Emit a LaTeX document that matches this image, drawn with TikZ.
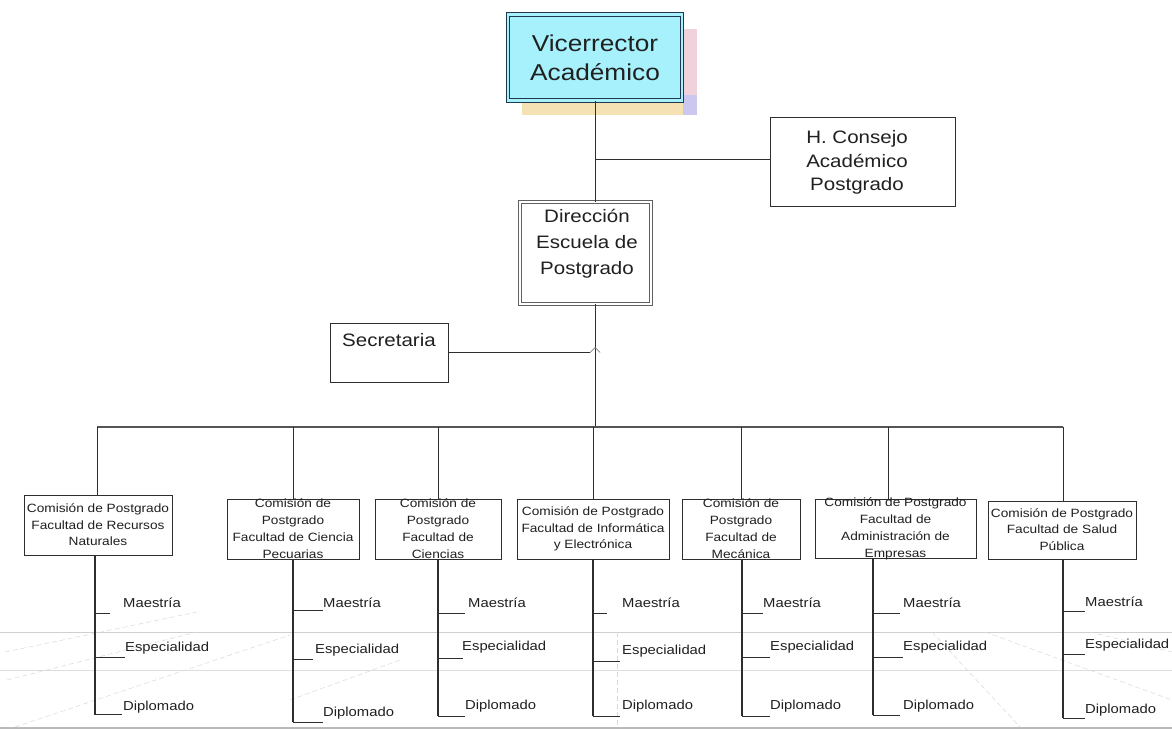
\documentclass[tikz,border=0pt]{standalone}
\usepackage{fontspec}
\setmainfont{Liberation Sans}[FakeStretch=1.14]
\definecolor{linec}{HTML}{2E2E2E}
\definecolor{busc}{HTML}{555555}
\definecolor{textc}{HTML}{202020}
\definecolor{vrfill}{HTML}{A6F1FB}
\definecolor{navy}{HTML}{203850}
\definecolor{shpink}{HTML}{F0D2DC}
\definecolor{shyel}{HTML}{F4E2B4}
\definecolor{shlav}{HTML}{CBC7EE}
\definecolor{floorc}{HTML}{CFCFCF}
\begin{document}
\begin{tikzpicture}[x=1pt,y=-1pt,
  box/.style={draw=linec, line width=0.9pt, inner sep=0pt, fill=white},
  txt/.style={align=center, inner sep=0pt, text=textc},
  big/.style={txt, font=\fontsize{18}{24}\selectfont},
  small/.style={txt, font=\fontsize{12}{16.5}\selectfont},
  leaf/.style={inner sep=0pt, anchor=west, text=textc, font=\fontsize{13}{15}\selectfont},
  conn/.style={draw=linec, line width=1pt},
  floor/.style={draw=floorc, line width=0.6pt},
  floordash/.style={draw=floorc!80, line width=0.5pt, dash pattern=on 5pt off 3pt}]
\useasboundingbox (0,0) rectangle (1172,730);
\fill[white] (0,0) rectangle (1172,730);

% faint floor grid behind the lower tier
\draw[floor] (0,632) -- (1172,632);
\draw[floor, draw=floorc!70] (0,670) -- (1172,670);
\draw[draw=floorc!90!black, line width=1.6pt] (0,728) -- (1172,728);
\draw[floordash] (5,652) -- (197,612);
\draw[floordash] (7,680) -- (197,632);
\draw[floordash] (15,727) -- (290,635);
\draw[floordash] (290,700) -- (400,660);
\draw[floordash] (932,632) -- (1020,727);
\draw[floordash] (985,632) -- (1172,700);
\draw[floordash] (1090,632) -- (1172,652);
\draw[floordash] (617,632) -- (617,727);

% Vicerrector with coloured drop shadow
\fill[shpink] (522,29) rectangle (697,115);
\fill[shyel] (522,102) rectangle (683,115);
\fill[shlav] (683,95) rectangle (697,115);
\node[draw=navy, line width=1pt, double=vrfill, double distance=2.2pt, fill=vrfill,
      minimum width=174pt, minimum height=86pt, inner sep=0pt] (vr) at (595,57.5) {};
\node[txt, font=\fontsize{23}{29}\selectfont] (vrt) at (595,57.5) {Vicerrector\\Académico};

% H. Consejo Académico Postgrado
\node[box, minimum width=185pt, minimum height=89pt] (hc) at (862.5,161.5) {};
\node[big, font=\fontsize{18}{23.5}\selectfont] (hct) at (857,162.5) {H. Consejo\\Académico\\Postgrado};

% Dirección Escuela de Postgrado
\node[draw=gray!75!black, line width=0.8pt, double=white, double distance=1.8pt, fill=white,
      minimum width=131pt, minimum height=102pt, inner sep=0pt] (dir) at (585.5,253) {};
\node[big, font=\fontsize{18}{26}\selectfont] (dirt) at (587,243.5) {Dirección\\Escuela de\\Postgrado};

% Secretaria
\node[box, minimum width=118pt, minimum height=59pt] (sec) at (389,352.5) {};
\node[txt, anchor=west, font=\fontsize{18}{22}\selectfont] (sect) at (342,340) {Secretaria};

% upper connectors
\coordinate (spine) at (595,0);
\coordinate (hcj) at (595,160);
\coordinate (hopL) at (590,352.5);
\coordinate (hopT) at (595,347.5);
\coordinate (hopR) at (600,352.5);
\draw[conn] (vr.south) -- (vr.south |- dir.north);
\draw[conn] (hcj) -- (hcj -| hc.west);
\draw[conn] (spine |- dir.south) -- (spine |- 0,427);
\draw[conn, line width=0.8pt] (sec.east) -- (hopL);
\draw[draw=gray, line width=0.7pt] (hopL) -- (hopT) -- (hopR);

% faculty commissions
\node[box, minimum width=148pt, minimum height=60pt] (b1) at (98,525) {};
\node[box, minimum width=132pt, minimum height=60pt] (b2) at (293,529) {};
\node[box, minimum width=126pt, minimum height=60pt] (b3) at (438,529) {};
\node[box, minimum width=152pt, minimum height=60pt] (b4) at (593,529) {};
\node[box, minimum width=118pt, minimum height=60pt] (b5) at (741,529) {};
\node[box, minimum width=161pt, minimum height=59pt] (b6) at (895.5,528.5) {};
\node[box, minimum width=148pt, minimum height=58pt] (b7) at (1062,530) {};

\node[small] (b1t) at (98,525) {Comisión de Postgrado\\Facultad de Recursos\\Naturales};
\node[small, font=\fontsize{12}{17}\selectfont] (b2t) at (293,529) {Comisión de\\Postgrado\\Facultad de Ciencia\\Pecuarias};
\node[small, font=\fontsize{12}{17}\selectfont] (b3t) at (438,529) {Comisión de\\Postgrado\\Facultad de\\Ciencias};
\node[small] (b4t) at (593,529) {Comisión de Postgrado\\Facultad de Informática\\y Electrónica};
\node[small, font=\fontsize{12}{17}\selectfont] (b5t) at (741,529) {Comisión de\\Postgrado\\Facultad de\\Mecánica};
\node[small, font=\fontsize{12}{17}\selectfont] (b6t) at (895.5,529) {Comisión de Postgrado\\Facultad de\\Administración de\\Empresas};
\node[small] (b7t) at (1062,529.5) {Comisión de Postgrado\\Facultad de Salud\\Pública};

% distribution bus and drops
\coordinate (busL) at (97,427);
\coordinate (busR) at (1063,427);
\draw[draw=busc, line width=1.3pt] (busL) -- (busR);
\foreach \i/\x in {1/97,2/293,3/438,4/593,5/741,6/888,7/1063}{
  \coordinate (d\i) at (\x,427);
  \draw[conn] (d\i) -- (d\i |- b\i.north);
}

% programme branches under each commission
\foreach \i/\x/\bot/\my/\mx/\mlx/\mly/\ey/\ex/\elx/\ely/\dy/\dx/\dlx/\dly in {
  1/95/715/613/110/123/603/657/125/125/648/714/122/123/707,
  2/293/722/610/323/323/603/659/313/315/650/722/323/323/713,
  3/438/716/613/465/468/603/658/463/462/647/716/465/465/706,
  4/593/716/613/607/622/603/661/620/622/651/716/620/622/706,
  5/742/716/613/763/763/603/657/770/770/647/716/770/770/706,
  6/873/715/613/900/903/603/657/903/903/647/715/900/903/706,
  7/1063/718/611/1085/1085/602/654/1085/1085/645/718/1085/1085/710}{
  \coordinate (t\i) at (\x,\bot);
  \draw[conn, line width=1.2pt] (t\i |- b\i.south) -- (t\i);
  \coordinate (m\i) at (\x,\my);   \coordinate (me\i) at (\mx,\my);
  \coordinate (e\i) at (\x,\ey);   \coordinate (ee\i) at (\ex,\ey);
  \coordinate (p\i) at (\x,\dy);   \coordinate (pe\i) at (\dx,\dy);
  \draw[conn] (m\i) -- (me\i);
  \draw[conn] (e\i) -- (ee\i);
  \draw[conn] (p\i) -- (pe\i);
  \node[leaf] (lm\i) at (\mlx,\mly) {Maestría};
  \node[leaf] (le\i) at (\elx,\ely) {Especialidad};
  \node[leaf] (ld\i) at (\dlx,\dly) {Diplomado};
}
\end{tikzpicture}
\end{document}
